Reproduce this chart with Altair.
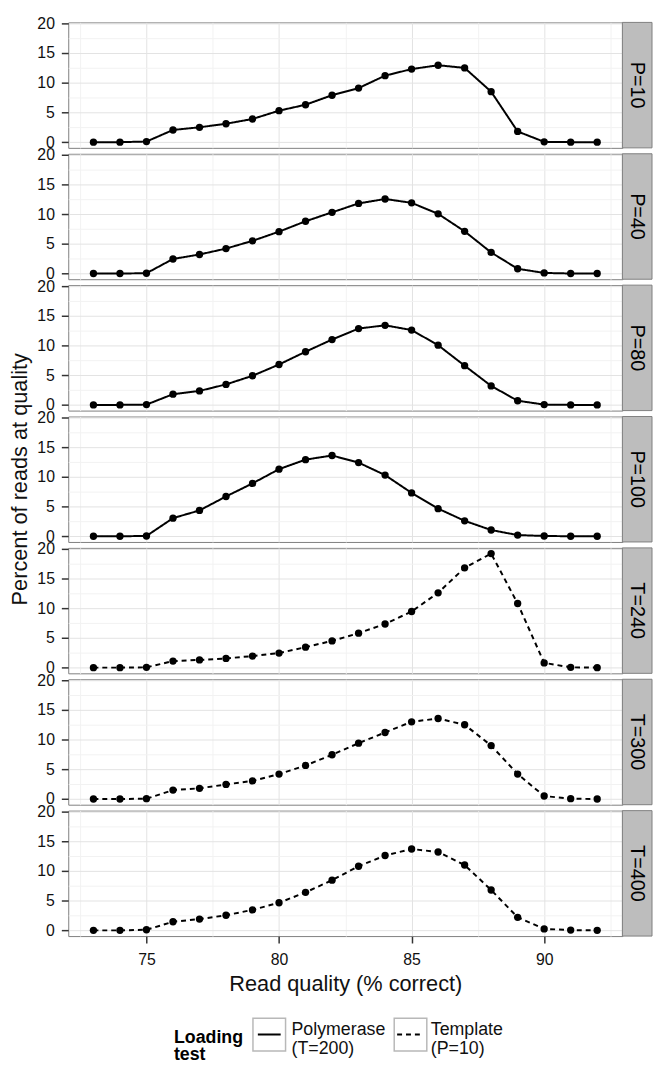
import altair as alt
import pandas as pd

quality = [73, 74, 75, 76, 77, 78, 79, 80, 81, 82, 83, 84, 85, 86, 87, 88, 89, 90, 91, 92]

panels = ["P=10", "P=40", "P=80", "P=100", "T=240", "T=300", "T=400"]
tests = ["Polymerase (T=200)", "Polymerase (T=200)", "Polymerase (T=200)", "Polymerase (T=200)",
         "Template (P=10)", "Template (P=10)", "Template (P=10)"]

p10 = [0, 0, 0.1, 2.05, 2.5, 3.1, 3.9, 5.3, 6.3, 7.9, 9.1, 11.2, 12.3, 12.95, 12.5, 8.5, 1.8, 0.05, 0, 0]
p40 = [0, 0, 0.05, 2.45, 3.2, 4.2, 5.5, 7.05, 8.8, 10.3, 11.8, 12.55, 11.9, 10.05, 7.1, 3.55, 0.8, 0.1, 0, 0]
p80 = [0, 0, 0.05, 1.8, 2.35, 3.45, 4.9, 6.8, 8.95, 11.0, 12.85, 13.4, 12.6, 10.05, 6.6, 3.2, 0.7, 0.05, 0, 0]
p100 = [0, 0, 0.05, 3.05, 4.35, 6.7, 8.9, 11.3, 12.9, 13.6, 12.4, 10.3, 7.3, 4.65, 2.6, 1.05, 0.2, 0.05, 0, 0]
t240 = [0, 0, 0.05, 1.1, 1.3, 1.55, 1.95, 2.45, 3.45, 4.5, 5.8, 7.35, 9.45, 12.6, 16.8, 19.2, 10.8, 0.8, 0.05, 0]
t300 = [0, 0, 0.05, 1.5, 1.8, 2.45, 3.05, 4.2, 5.65, 7.45, 9.4, 11.2, 13.0, 13.55, 12.5, 9.0, 4.2, 0.5, 0.05, 0]
t400 = [0, 0, 0.1, 1.45, 1.9, 2.55, 3.45, 4.65, 6.4, 8.45, 10.8, 12.6, 13.7, 13.2, 11.0, 6.8, 2.2, 0.25, 0.05, 0]
series = [p10, p40, p80, p100, t240, t300, t400]

x_ticks = [72.5, 75, 77.5, 80, 82.5, 85, 87.5, 90, 92.5]
y_ticks = [0, 2.5, 5, 7.5, 10, 12.5, 15, 17.5, 20]
legend_domain = ["Polymerase (T=200)", "Template (P=10)"]
box_domain = ["box: Polymerase (T=200)", "box: Template (P=10)"]

W = 561
H = 127
FONT = "Liberation Sans"
LEG_X = 107
LEG_Y = 1007

minor = "datum.value % 5 != 0"
grid_color = {"condition": {"test": minor, "value": "#f2f2f2"}, "value": "#e3e3e3"}
tick_op = {"condition": {"test": minor, "value": 0}, "value": 1}

legend_common = dict(
    orient="none",
    legendX=LEG_X,
    legendY=LEG_Y,
    direction="horizontal",
    titleOrient="left",
    titleFontSize=18,
    titleFontWeight="bold",
    titleColor="black",
    titleFont=FONT,
    titleLineHeight=17,
    titlePadding=9,
    titleBaseline="top",
    labelFont=FONT,
    labelFontSize=18,
    labelColor="#111111",
    labelLimit=0,
    labelOffset=5,
    labelBaseline="alphabetic",
    columnPadding=5,
    symbolSize=1089,
)


def panel(i):
    df = pd.DataFrame({"quality": quality, "pct": series[i], "test": tests[i], "box": "box: " + tests[i]})
    bottom = i == len(panels) - 1
    xaxis = alt.Axis(
        values=x_ticks,
        grid=True,
        gridColor=grid_color,
        gridWidth=1,
        domain=False,
        labels=bottom,
        ticks=bottom,
        labelExpr="datum.value % 5 == 0 ? datum.label : ''",
        tickOpacity=tick_op,
        tickSize=7,
        tickWidth=1.5,
        tickColor="#333333",
        labelFontSize=16,
        labelColor="#111111",
        labelPadding=9,
        title="Read quality (% correct)" if bottom else None,
        titleFontSize=22,
        titleFontWeight="normal",
        titleColor="#111111",
        titlePadding=6,
    )
    yaxis = alt.Axis(
        values=y_ticks,
        grid=True,
        gridColor=grid_color,
        gridWidth=1,
        domain=False,
        labelExpr="datum.value % 5 == 0 ? datum.label : ''",
        tickOpacity=tick_op,
        tickSize=7,
        tickWidth=1.5,
        tickColor="#333333",
        labelFontSize=16,
        labelColor="#111111",
        labelPadding=7,
        title=None,
    )
    xenc = alt.X("quality:Q", scale=alt.Scale(domain=[72.05, 92.95], nice=False, zero=False), axis=xaxis)
    yenc = alt.Y("pct:Q", scale=alt.Scale(domain=[-0.96, 20.16], nice=False, zero=False), axis=yaxis)

    base = alt.Chart(df)
    line = base.mark_line(color="black", strokeWidth=2).encode(
        x=xenc,
        y=yenc,
        strokeDash=alt.StrokeDash(
            "test:N",
            scale=alt.Scale(domain=legend_domain, range=[[1, 0], [5, 4]]),
            legend=alt.Legend(
                title=["Loading", "test"],
                symbolType="M-0.7,0H0.7",
                symbolStrokeWidth=2,
                symbolStrokeColor="black",
                labelExpr="split(datum.label, ' ')",
                zindex=2,
                **legend_common,
            ),
        ),
    )
    pts = base.mark_circle(color="black", opacity=1, size=55).encode(x=xenc, y=yenc)

    strip_df = pd.DataFrame({"label": [panels[i]]})
    strip = alt.Chart(strip_df).mark_rect(fill="#bdbdbd", stroke="#7f7f7f", strokeWidth=1).encode(
        x=alt.value(W), x2=alt.value(W + 30), y=alt.value(0), y2=alt.value(H)
    )
    strip_text = alt.Chart(strip_df).mark_text(angle=90, fontSize=20, font=FONT, color="black").encode(
        text="label:N", x=alt.value(W + 15), y=alt.value(H / 2)
    )
    layers = [strip, strip_text, line, pts]
    if i == 3:
        ytitle_df = pd.DataFrame({"t": ["Percent of reads at quality"]})
        ytitle = alt.Chart(ytitle_df).mark_text(angle=270, fontSize=22, font=FONT, color="#111111").encode(
            text="t:N", x=alt.value(-49), y=alt.value(H / 2)
        )
        layers.append(ytitle)
    if bottom:
        # legend key boxes: zero-size points, only their legend is visible
        boxes = base.mark_point(
            filled=False, shape="square", strokeWidth=1.5, size=0
        ).encode(
            x=xenc,
            y=yenc,
            color=alt.Color(
                "box:N",
                scale=alt.Scale(domain=box_domain, range=["#b8b8b8", "#b8b8b8"]),
                legend=alt.Legend(
                    title=["Loading", "test "],
                    symbolType="square",
                    symbolStrokeWidth=1.5,
                    symbolOpacity=1,
                    labelOpacity=0,
                    titleOpacity=0,
                    labelExpr="split(replace(datum.label, 'box: ', ''), ' ')",
                    zindex=1,
                    **legend_common,
                ),
            ),
        )
        layers.insert(0, boxes)
    return alt.layer(*layers).properties(width=W, height=H)


chart = alt.vconcat(*[panel(i) for i in range(len(panels))], spacing=6, bounds="flush").properties(
    padding=0
).configure(
    font=FONT
).configure_view(
    stroke="#7f7f7f", strokeWidth=1
)

chart.save("out.html", embed_options={"renderer": "svg", "actions": False})
